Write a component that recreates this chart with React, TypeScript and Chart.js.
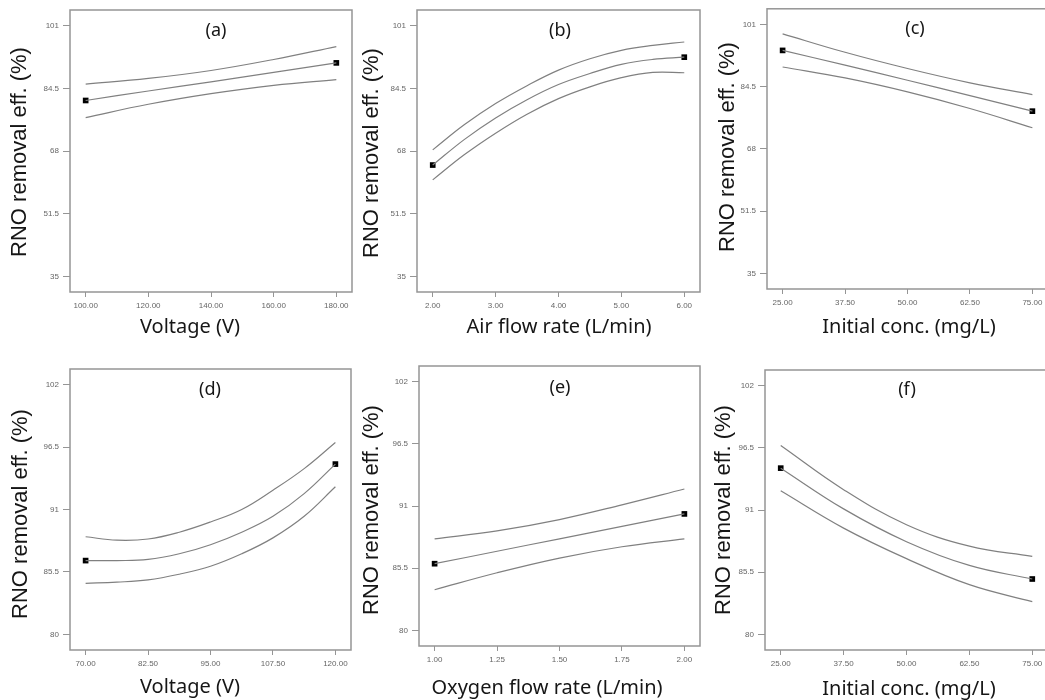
import React, { useEffect, useRef } from 'react';
import { Chart, registerables } from 'chart.js';

Chart.register(...registerables);

// ---- shared axis text ----
const Y_TITLE = 'RNO removal eff. (%)';
const yTicksTop = [35, 51.5, 68, 84.5, 101];
const yLabelsTop = ['35', '51.5', '68', '84.5', '101'];
const yTicksBottom = [80, 85.5, 91, 96.5, 102];
const yLabelsBottom = ['80', '85.5', '91', '96.5', '102'];

// ---- (a) Voltage ----
const voltageA = [100, 120, 140, 160, 180];
const meanA = [81.3, 83.8, 86.2, 88.7, 91.2];
const upperA = [85.6, 87.1, 89.2, 92.1, 95.5];
const lowerA = [76.8, 80.3, 83.1, 85.3, 86.8];
const designXA = [100, 180];
const designYA = [81.3, 91.2];
const xTicksA = [100, 120, 140, 160, 180];
const xLabelsA = ['100.00', '120.00', '140.00', '160.00', '180.00'];

// ---- (b) Air flow rate ----
const airFlowB = [2, 2.5, 3, 3.5, 4, 4.5, 5, 5.5, 6];
const meanB = [64.3, 71.0, 76.7, 81.5, 85.5, 88.4, 90.8, 92.1, 92.7];
const upperB = [68.3, 74.9, 80.5, 85.2, 89.3, 92.3, 94.5, 95.8, 96.7];
const lowerB = [60.4, 67.0, 72.7, 77.7, 81.8, 84.9, 87.3, 88.7, 88.6];
const designXB = [2, 6];
const designYB = [64.3, 92.7];
const xTicksB = [2, 3, 4, 5, 6];
const xLabelsB = ['2.00', '3.00', '4.00', '5.00', '6.00'];

// ---- (c) Initial concentration ----
const concC = [25, 37.5, 50, 62.5, 75];
const meanC = [94.1, 90.2, 86.2, 82.1, 78.0];
const upperC = [98.5, 93.6, 89.3, 85.5, 82.4];
const lowerC = [89.7, 86.8, 83.1, 78.7, 73.6];
const designXC = [25, 75];
const designYC = [94.1, 78.0];
const xTicksC = [25, 37.5, 50, 62.5, 75];
const xLabelsC = ['25.00', '37.50', '50.00', '62.50', '75.00'];

// ---- (d) Voltage ----
const voltageD = [70, 76.25, 82.5, 88.75, 95, 101.25, 107.5, 113.75, 120];
const meanD = [86.5, 86.5, 86.6, 87.1, 87.9, 89.0, 90.4, 92.4, 95.0];
const upperD = [88.6, 88.3, 88.4, 89.0, 89.9, 91.0, 92.7, 94.6, 96.9];
const lowerD = [84.5, 84.6, 84.8, 85.3, 86.0, 87.1, 88.5, 90.4, 93.0];
const designXD = [70, 120];
const designYD = [86.5, 95.0];
const xTicksD = [70, 82.5, 95, 107.5, 120];
const xLabelsD = ['70.00', '82.50', '95.00', '107.50', '120.00'];

// ---- (e) Oxygen flow rate ----
const oxygenE = [1, 1.25, 1.5, 1.75, 2];
const meanE = [85.9, 87.0, 88.1, 89.2, 90.3];
const upperE = [88.1, 88.8, 89.8, 91.1, 92.5];
const lowerE = [83.6, 85.1, 86.4, 87.4, 88.1];
const designXE = [1, 2];
const designYE = [85.9, 90.3];
const xTicksE = [1, 1.25, 1.5, 1.75, 2];
const xLabelsE = ['1.00', '1.25', '1.50', '1.75', '2.00'];

// ---- (f) Initial concentration ----
const concF = [25, 37.5, 50, 62.5, 75];
const meanF = [94.7, 91.1, 88.2, 86.1, 84.9];
const upperF = [96.7, 92.8, 89.7, 87.8, 86.9];
const lowerF = [92.7, 89.4, 86.7, 84.4, 82.9];
const designXF = [25, 75];
const designYF = [94.7, 84.9];
const xTicksF = [25, 37.5, 50, 62.5, 75];
const xLabelsF = ['25.00', '37.50', '50.00', '62.50', '75.00'];

type Box = { left: number; top: number; width: number; height: number };
type Frame = { l: number; t: number; r: number; b: number };

type Panel = {
  tag: string;
  xTitle: string;
  xs: number[];
  mean: number[];
  upper: number[];
  lower: number[];
  dotX: number[];
  dotY: number[];
  xTicks: number[];
  xLabels: string[];
  yTicks: number[];
  yLabels: string[];
  xRange: [number, number];
  yRange: [number, number];
  cell: Box;
  frame: Frame;
  tagPos: [number, number];
  xTitlePos: [number, number];
  yTitlePos: [number, number];
};

const TOP_Y: [number, number] = [30.875, 105.125];
const BOTTOM_Y: [number, number] = [78.625, 103.375];

const panels: Panel[] = [
  {
    tag: '(a)', xTitle: 'Voltage (V)',
    xs: voltageA, mean: meanA, upper: upperA, lower: lowerA, dotX: designXA, dotY: designYA,
    xTicks: xTicksA, xLabels: xLabelsA, yTicks: yTicksTop, yLabels: yLabelsTop,
    xRange: [95, 185], yRange: TOP_Y,
    cell: { left: 0, top: 0, width: 357, height: 345 },
    frame: { l: 70, t: 10, r: 352, b: 292 },
    tagPos: [216, 31], xTitlePos: [190, 333], yTitlePos: [20, 152],
  },
  {
    tag: '(b)', xTitle: 'Air flow rate (L/min)',
    xs: airFlowB, mean: meanB, upper: upperB, lower: lowerB, dotX: designXB, dotY: designYB,
    xTicks: xTicksB, xLabels: xLabelsB, yTicks: yTicksTop, yLabels: yLabelsTop,
    xRange: [1.75, 6.25], yRange: TOP_Y,
    cell: { left: 357, top: 0, width: 350, height: 345 },
    frame: { l: 417, t: 10, r: 700, b: 292 },
    tagPos: [560, 31], xTitlePos: [559, 333], yTitlePos: [372, 153],
  },
  {
    tag: '(c)', xTitle: 'Initial conc. (mg/L)',
    xs: concC, mean: meanC, upper: upperC, lower: lowerC, dotX: designXC, dotY: designYC,
    xTicks: xTicksC, xLabels: xLabelsC, yTicks: yTicksTop, yLabels: yLabelsTop,
    xRange: [21.875, 78.125], yRange: TOP_Y,
    cell: { left: 707, top: 0, width: 350, height: 345 },
    frame: { l: 767, t: 8, r: 1048, b: 289 },
    tagPos: [915, 29], xTitlePos: [909, 333], yTitlePos: [728, 147],
  },
  {
    tag: '(d)', xTitle: 'Voltage (V)',
    xs: voltageD, mean: meanD, upper: upperD, lower: lowerD, dotX: designXD, dotY: designYD,
    xTicks: xTicksD, xLabels: xLabelsD, yTicks: yTicksBottom, yLabels: yLabelsBottom,
    xRange: [66.875, 123.125], yRange: BOTTOM_Y,
    cell: { left: 0, top: 345, width: 357, height: 355 },
    frame: { l: 70, t: 369, r: 351, b: 650 },
    tagPos: [210, 390], xTitlePos: [190, 693], yTitlePos: [21, 514],
  },
  {
    tag: '(e)', xTitle: 'Oxygen flow rate (L/min)',
    xs: oxygenE, mean: meanE, upper: upperE, lower: lowerE, dotX: designXE, dotY: designYE,
    xTicks: xTicksE, xLabels: xLabelsE, yTicks: yTicksBottom, yLabels: yLabelsBottom,
    xRange: [0.9375, 2.0625], yRange: BOTTOM_Y,
    cell: { left: 357, top: 345, width: 350, height: 355 },
    frame: { l: 419, t: 366, r: 700, b: 646 },
    tagPos: [560, 388], xTitlePos: [547, 694], yTitlePos: [372, 510],
  },
  {
    tag: '(f)', xTitle: 'Initial conc. (mg/L)',
    xs: concF, mean: meanF, upper: upperF, lower: lowerF, dotX: designXF, dotY: designYF,
    xTicks: xTicksF, xLabels: xLabelsF, yTicks: yTicksBottom, yLabels: yLabelsBottom,
    xRange: [21.875, 78.125], yRange: BOTTOM_Y,
    cell: { left: 707, top: 345, width: 350, height: 355 },
    frame: { l: 765, t: 370, r: 1048, b: 650 },
    tagPos: [907, 390], xTitlePos: [909, 695], yTitlePos: [724, 510],
  },
];

const CURVE_COLOR = '#808080';
const FRAME_COLOR = '#959595';
const TICK_COLOR = '#666666';
const X_AXIS_H = 30;

function curve(xs: number[], ys: number[]) {
  return {
    data: xs.map((x, i) => ({ x, y: ys[i] })),
    showLine: true,
    borderColor: CURVE_COLOR,
    borderWidth: 1.2,
    pointRadius: 0,
    tension: 0.4,
    fill: false,
  };
}

function PanelChart({ p }: { p: Panel }) {
  const ref = useRef<HTMLCanvasElement>(null);

  useEffect(() => {
    const canvas = ref.current;
    if (!canvas) return;
    const { cell, frame } = p;

    const decor = {
      id: 'panelDecor',
      beforeDatasetsDraw(chart: any) {
        const { ctx, chartArea: a } = chart;
        ctx.save();
        ctx.strokeStyle = FRAME_COLOR;
        ctx.lineWidth = 1.5;
        ctx.strokeRect(a.left, a.top, a.right - a.left, a.bottom - a.top);
        ctx.restore();
      },
      afterDraw(chart: any) {
        const ctx = chart.ctx;
        ctx.save();
        ctx.fillStyle = '#161616';
        ctx.textAlign = 'center';
        // panel tag inside the frame
        ctx.font = '18px "Noto Sans"';
        ctx.textBaseline = 'middle';
        ctx.fillText(p.tag, p.tagPos[0] - cell.left, p.tagPos[1] - cell.top);
        // x axis title
        ctx.font = '20px "Noto Sans"';
        ctx.textBaseline = 'alphabetic';
        ctx.fillText(p.xTitle, p.xTitlePos[0] - cell.left, p.xTitlePos[1] - cell.top);
        // y axis title
        ctx.translate(p.yTitlePos[0] - cell.left, p.yTitlePos[1] - cell.top);
        ctx.rotate(-Math.PI / 2);
        ctx.font = '22px "Liberation Sans"';
        ctx.textBaseline = 'middle';
        ctx.fillText(Y_TITLE, 0, 0);
        ctx.restore();
      },
    };

    const tickFont = { family: '"Liberation Sans", Arial, sans-serif', size: 8 };

    const chart = new Chart(canvas, {
      type: 'scatter',
      data: {
        datasets: [
          curve(p.xs, p.upper),
          curve(p.xs, p.mean),
          curve(p.xs, p.lower),
          {
            data: p.dotX.map((x, i) => ({ x, y: p.dotY[i] })),
            showLine: false,
            pointStyle: 'rect',
            pointRadius: 4,
            backgroundColor: '#000000',
            borderColor: '#000000',
            borderWidth: 0,
            clip: false,
          } as any,
        ],
      },
      options: {
        responsive: false,
        animation: false,
        devicePixelRatio: 1,
        events: [],
        layout: {
          padding: {
            left: 0,
            top: frame.t - cell.top,
            right: cell.left + cell.width - frame.r,
            bottom: cell.top + cell.height - frame.b - X_AXIS_H,
          },
        },
        plugins: {
          legend: { display: false },
          tooltip: { enabled: false },
          title: { display: false },
        },
        scales: {
          x: {
            type: 'linear',
            min: p.xRange[0],
            max: p.xRange[1],
            afterBuildTicks: (s: any) => {
              s.ticks = p.xTicks.map((v) => ({ value: v }));
            },
            afterFit: (s: any) => {
              s.height = X_AXIS_H;
            },
            ticks: {
              autoSkip: false,
              maxRotation: 0,
              padding: 4,
              font: tickFont,
              color: TICK_COLOR,
              callback: (_v: any, i: number) => p.xLabels[i],
            },
            grid: { drawOnChartArea: false, drawTicks: true, tickLength: 5, color: FRAME_COLOR },
            border: { display: false },
          },
          y: {
            type: 'linear',
            min: p.yRange[0],
            max: p.yRange[1],
            afterBuildTicks: (s: any) => {
              s.ticks = p.yTicks.map((v) => ({ value: v }));
            },
            afterFit: (s: any) => {
              s.width = frame.l - cell.left;
            },
            ticks: {
              autoSkip: false,
              padding: 4,
              font: tickFont,
              color: TICK_COLOR,
              callback: (_v: any, i: number) => p.yLabels[i],
            },
            grid: { drawOnChartArea: false, drawTicks: true, tickLength: 7, color: FRAME_COLOR },
            border: { display: false },
          },
        },
      } as any,
      plugins: [decor],
    });

    return () => chart.destroy();
  }, [p]);

  return (
    <canvas
      ref={ref}
      width={p.cell.width}
      height={p.cell.height}
      style={{
        position: 'absolute',
        left: p.cell.left,
        top: p.cell.top,
        width: p.cell.width,
        height: p.cell.height,
      }}
    />
  );
}

export default function App() {
  return (
    <div
      style={{
        position: 'absolute',
        left: 0,
        top: 0,
        width: 1045,
        height: 700,
        overflow: 'hidden',
        background: '#ffffff',
      }}
    >
      {panels.map((p) => (
        <PanelChart key={p.tag} p={p} />
      ))}
    </div>
  );
}
